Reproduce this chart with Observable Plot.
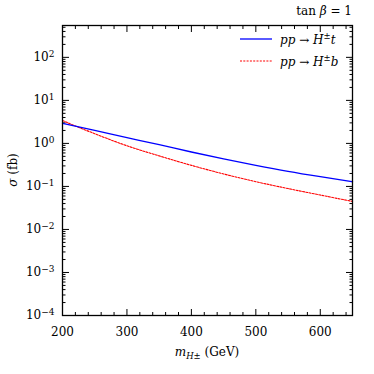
<!DOCTYPE html>
<html>
<head>
<meta charset="utf-8">
<script src="https://cdn.jsdelivr.net/npm/d3@7"></script>
<script src="https://cdn.jsdelivr.net/npm/@observablehq/plot@0.6"></script>
<style>
  html, body { margin: 0; padding: 0; background: white; }
</style>
</head>
<body>
<div id="chart"></div>
<script>
// Charged Higgs mass (GeV)
const masses = [200, 250, 300, 350, 400, 450, 500, 550, 600, 650];
// sigma (fb) for pp -> H± t
const sigmaHt = [2.92, 2.0, 1.365, 0.933, 0.631, 0.437, 0.309, 0.224, 0.168, 0.1285];
// sigma (fb) for pp -> H± b
const sigmaHb = [3.39, 1.68, 0.881, 0.513, 0.309, 0.195, 0.129, 0.0891, 0.0631, 0.0448];

const xMajorTicks = [200, 300, 400, 500, 600];
const xMinorTicks = d3.range(200, 651, 20).filter(v => v % 100 !== 0);
const yExponents = [-4, -3, -2, -1, 0, 1, 2];
const yMajorTicks = yExponents.map(e => Math.pow(10, e));
const yMinorTicks = [];
for (const e of yExponents) for (let m = 2; m <= 9; m++) {
  const v = m * Math.pow(10, e);
  if (v <= 550) yMinorTicks.push(v);
}

const rowsHt = masses.map((m, i) => ({m, s: sigmaHt[i]}));
const rowsHb = masses.map((m, i) => ({m, s: sigmaHb[i]}));

const fmtY = v => "10^" + String(Math.round(Math.log10(v))).replace("-", "−");

const W = 374, H = 374;
const mL = 62, mR = 22, mT = 25, mB = 59;
const font = "'DejaVu Serif', 'Liberation Serif', serif";
const fs = 12;

const chart = Plot.plot({
  width: W, height: H,
  marginTop: mT, marginBottom: mB, marginLeft: mL, marginRight: mR,
  style: `font-family: ${font}; font-size: ${fs}px; background: white; color: black;`,
  x: {domain: [200, 650]},
  y: {type: "log", domain: [1e-4, 550]},
  marks: [
    Plot.axisX({anchor: "bottom", ticks: xMajorTicks, tickSize: -6, tickFormat: () => "", label: null}),
    Plot.axisX({anchor: "bottom", ticks: xMinorTicks, tickSize: -3, tickFormat: () => "", label: null}),
    Plot.axisX({anchor: "top", ticks: xMajorTicks, tickSize: -6, tickFormat: () => "", label: null}),
    Plot.axisX({anchor: "top", ticks: xMinorTicks, tickSize: -3, tickFormat: () => "", label: null}),
    Plot.axisX({anchor: "bottom", ticks: xMajorTicks, tickSize: 0, tickPadding: 12, tickFormat: d => String(d), label: null}),
    Plot.axisY({anchor: "left", ticks: yMajorTicks, tickSize: -7, tickFormat: () => "", label: null}),
    Plot.axisY({anchor: "left", ticks: yMinorTicks, tickSize: -3.5, tickFormat: () => "", label: null}),
    Plot.axisY({anchor: "right", ticks: yMajorTicks, tickSize: -7, tickFormat: () => "", label: null}),
    Plot.axisY({anchor: "right", ticks: yMinorTicks, tickSize: -3.5, tickFormat: () => "", label: null}),
    Plot.axisY({anchor: "left", ticks: yMajorTicks, tickSize: 0, tickPadding: 8, tickFormat: fmtY, label: null}),
    Plot.line(rowsHb, {x: "m", y: "s", stroke: "#ff0000", strokeWidth: 1.1, strokeDasharray: "2,1.3", curve: "monotone-x"}),
    Plot.line(rowsHt, {x: "m", y: "s", stroke: "#0000ff", strokeWidth: 1.3, curve: "monotone-x"}),
    Plot.frame({stroke: "black", strokeWidth: 1.3})
  ]
});

const svg = d3.select(chart);

// superscript exponents on y tick labels
svg.selectAll("text").each(function() {
  const t = this.textContent;
  if (!t.startsWith("10^")) return;
  const [b, e] = t.split("^");
  const sel = d3.select(this);
  sel.text(b);
  sel.append("tspan").attr("dy", "-0.45em").attr("font-size", "0.75em").text(e);
});

// title
svg.append("text")
  .attr("x", W - mR).attr("y", 15)
  .attr("text-anchor", "end").attr("font-family", font).attr("font-size", fs)
  .call(t => {
    t.append("tspan").text("tan ");
    t.append("tspan").attr("font-style", "italic").text("β");
    t.append("tspan").text(" = 1");
  });

// y label
svg.append("text")
  .attr("transform", `translate(17,${(mT + H - mB) / 2}) rotate(-90)`)
  .attr("text-anchor", "middle").attr("font-family", font).attr("font-size", fs)
  .call(t => {
    t.append("tspan").attr("font-style", "italic").text("σ");
    t.append("tspan").text(" (fb)");
  });

// x label
svg.append("text")
  .attr("x", (mL + W - mR) / 2).attr("y", 356)
  .attr("text-anchor", "middle").attr("font-family", font).attr("font-size", fs)
  .call(t => {
    t.append("tspan").attr("font-style", "italic").text("m");
    t.append("tspan").attr("font-style", "italic").attr("font-size", 8.5).attr("dy", 3).text("H±");
    t.append("tspan").attr("dy", -3).text(" (GeV)");
  });

// legend
const legend = [
  {label: "t", color: "#0000ff", dash: null, w: 1.3, y: 39},
  {label: "b", color: "#ff0000", dash: "2,1.3", w: 1.1, y: 61}
];
for (const L of legend) {
  svg.append("line")
    .attr("x1", 240).attr("x2", 272).attr("y1", L.y).attr("y2", L.y)
    .attr("stroke", L.color).attr("stroke-width", L.w)
    .attr("stroke-dasharray", L.dash);
  svg.append("text")
    .attr("x", 280).attr("y", L.y + 4.5)
    .attr("text-anchor", "start")
    .attr("font-family", font).attr("font-size", fs)
    .call(t => {
      t.append("tspan").attr("font-style", "italic").text("pp");
      t.append("tspan").text(" → ");
      t.append("tspan").attr("font-style", "italic").text("H");
      t.append("tspan").attr("font-size", 8.5).attr("dy", -5).text("±");
      t.append("tspan").attr("font-style", "italic").attr("dy", 5).text(L.label);
    });
}

document.getElementById("chart").appendChild(chart);
</script>
</body>
</html>
